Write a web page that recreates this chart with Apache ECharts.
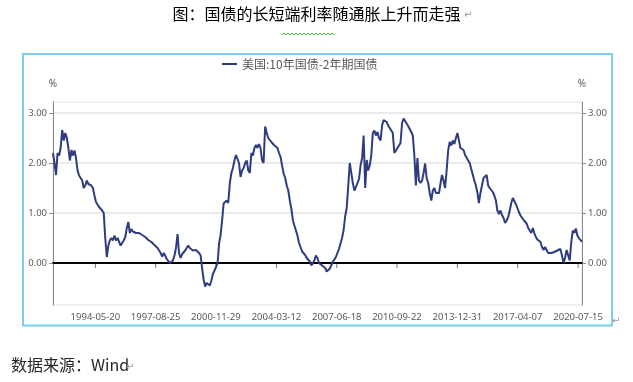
<!DOCTYPE html>
<html><head><meta charset="utf-8">
<script src="https://cdn.jsdelivr.net/npm/echarts@6/dist/echarts.min.js"></script>
<style>html,body{margin:0;padding:0;background:#fff}#c{width:633px;height:382px}</style>
</head><body><div id="c"></div>
<script>
const titleText = '图：国债的长短端利率随通胀上升而走强';
const sourceText = '数据来源：Wind';
const seriesName = '美国:10年国债-2年期国债';
const firstMonth = [1992, 2];
// monthly values (%), 1992-02 .. 2020-10
const spread = [
 2.20,2.00,1.76,2.20,2.15,2.30,2.66,2.45,2.60,2.50,2.30,
 2.05,2.26,2.15,2.25,2.10,1.85,1.75,1.72,1.65,1.50,1.55,1.65,
 1.58,1.62,1.55,1.50,1.35,1.22,1.20,1.12,1.10,1.05,1.00,0.50,
 0.12,0.35,0.45,0.50,0.45,0.55,0.45,0.50,0.48,0.35,0.38,0.45,
 0.52,0.70,0.82,0.60,0.68,0.63,0.62,0.60,0.63,0.60,0.60,0.56,
 0.58,0.52,0.50,0.46,0.45,0.42,0.40,0.36,0.33,0.30,0.25,0.20,
 0.13,0.20,0.15,0.08,0.05,0.00,0.02,0.05,0.15,0.30,0.58,0.20,
 0.10,0.18,0.22,0.25,0.30,0.35,0.30,0.32,0.25,0.28,0.26,0.22,
 0.20,0.15,-0.10,-0.34,-0.47,-0.40,-0.44,-0.45,-0.35,-0.22,-0.15,-0.08,
 0.00,0.40,0.55,0.85,1.19,1.22,1.25,1.20,1.60,1.80,1.90,2.05,
 2.16,2.20,2.00,1.72,1.85,1.90,2.00,2.05,1.85,1.80,2.20,2.15,
 2.30,2.36,2.30,2.38,2.30,2.05,2.00,2.73,2.60,2.50,2.48,2.42,
 2.45,2.35,2.37,2.30,2.20,2.12,1.95,1.79,1.70,1.55,1.45,1.25,
 1.08,0.85,0.75,0.65,0.55,0.40,0.32,0.23,0.20,0.16,0.10,0.06,
 0.03,-0.05,-0.08,0.05,0.15,0.10,0.00,-0.02,-0.05,-0.07,-0.10,-0.17,
 -0.14,-0.11,-0.08,0.02,-0.02,0.12,0.20,0.28,0.39,0.50,0.66,0.93,
 1.10,1.55,2.00,1.80,1.60,1.45,1.52,1.60,1.68,1.95,2.10,2.55,
 1.50,2.06,1.85,1.95,2.15,2.60,2.65,2.55,2.62,2.50,2.45,2.75,
 2.86,2.89,2.82,2.75,2.72,2.65,2.60,2.20,2.25,2.30,2.35,2.40,
 2.80,2.89,2.84,2.79,2.74,2.70,2.62,2.55,2.15,1.55,2.10,1.65,
 1.60,1.65,1.80,1.99,1.70,1.60,1.40,1.25,1.45,1.50,1.40,1.42,
 1.40,1.60,1.76,1.65,1.50,1.85,2.25,2.42,2.35,2.45,2.38,2.50,
 2.60,2.62,2.30,2.30,2.26,2.16,2.13,2.05,2.00,1.88,1.85,1.65,
 1.55,1.40,1.20,1.40,1.40,1.70,1.73,1.76,1.55,1.50,1.46,1.42,
 1.35,1.25,1.05,0.98,1.05,0.96,0.90,0.80,0.85,0.92,1.05,1.20,
 1.30,1.28,1.18,1.10,1.02,0.95,0.92,0.86,0.86,0.79,0.70,0.65,
 0.60,0.70,0.60,0.52,0.47,0.44,0.42,0.32,0.26,0.32,0.29,0.20,
 0.19,0.20,0.19,0.22,0.20,0.25,0.23,0.28,0.15,0.00,0.10,0.26,
 0.30,0.05,0.40,0.65,0.60,0.69,0.55,0.50,0.52,0.42
];
const xTickDates = ['1994-05-20','1997-08-25','2000-11-29','2004-03-12','2007-06-18','2010-09-22','2013-12-31','2017-04-07','2020-07-15'];
const xRange = ['1992-02-01','2020-10-01'];
const yTicks = [0, 1, 2, 3];
const yRange = [-0.84, 3.22];

function pad(n){return (n<10?'0':'')+n;}
const toTime = s => { const p = s.split('-').map(Number); return Date.UTC(p[0], p[1]-1, p[2]); };
const months = spread.map((_, i) => {
  const k = firstMonth[1] - 1 + i;
  return (firstMonth[0] + Math.floor(k/12)) + '-' + pad(k%12+1) + '-01';
});
const seriesData = months.map((d, i) => [toTime(d), spread[i]]);
const xTickTimes = xTickDates.map(toTime);
const fmtDate = v => { const d = new Date(v); return d.getUTCFullYear()+'-'+pad(d.getUTCMonth()+1)+'-'+pad(d.getUTCDate()); };

const axisFont = 'Noto Sans';
const labelColor = '#595959';
const yAxisCommon = {
  type: 'value', min: yRange[0], max: yRange[1],
  name: '%', nameLocation: 'end', nameGap: 13,
  nameTextStyle: { color: labelColor, fontSize: 10, fontFamily: axisFont },
  axisLine: { show: true, lineStyle: { color: '#8a8a8a', width: 1 } },
  axisTick: { show: true, customValues: yTicks, length: 4, lineStyle: { color: '#8a8a8a' } },
  axisLabel: { customValues: yTicks, formatter: v => v.toFixed(2), color: labelColor, fontSize: 9.5, fontFamily: axisFont, margin: 6 }
};

const chart = echarts.init(document.getElementById('c'), null, { renderer: 'canvas' });
const wave = [];
for (let x = 282; x <= 334; x += 2) wave.push([x, (x/2) % 2 === 0 ? 33 : 35]);

chart.setOption({
  animation: false,
  backgroundColor: '#fff',
  title: { text: titleText, left: 'center', top: 6, padding: 0,
    textStyle: { fontSize: 16, fontWeight: 'normal', color: '#000', fontFamily: 'Noto Sans CJK SC' } },
  legend: { top: 58, left: 222, icon: 'rect', itemWidth: 15, itemHeight: 2, padding: 0, itemGap: 10,
    textStyle: { color: labelColor, fontSize: 12, fontFamily: 'Noto Sans CJK SC' }, data: [seriesName] },
  grid: { left: 53, right: 51, top: 102, bottom: 77, show: true, borderColor: '#e4e4e4', borderWidth: 1 },
  xAxis: {
    type: 'value', min: toTime(xRange[0]), max: toTime(xRange[1]),
    axisLine: { onZero: true, lineStyle: { color: '#000', width: 2 } },
    axisTick: { show: false },
    axisLabel: { customValues: xTickTimes, formatter: v => fmtDate(v), margin: 7, color: labelColor, fontSize: 9.5, fontFamily: axisFont, hideOverlap: false },
    splitLine: { show: false }
  },
  yAxis: [
    Object.assign({}, yAxisCommon, { position: 'left', splitLine: { show: true, lineStyle: { color: '#e4e4e4', width: 1.5 } } }),
    Object.assign({}, yAxisCommon, { position: 'right', splitLine: { show: false } })
  ],
  series: [
    {
      name: seriesName, type: 'line', data: seriesData, yAxisIndex: 0,
      symbol: 'none', showSymbol: false, z: 3,
      lineStyle: { color: '#2f3c80', width: 2 }, itemStyle: { color: '#2f3c80' }
    },
    {
      name: 'xticks', type: 'scatter', data: xTickTimes.map(t => [t, 0]), yAxisIndex: 0,
      symbol: 'rect', symbolSize: [1, 4], symbolOffset: [0, 3], silent: true, z: 1,
      itemStyle: { color: '#555' }
    }
  ],
  graphic: [
    { type: 'rect', shape: { x: 23, y: 54, width: 589, height: 271.5 }, style: { fill: 'none', stroke: '#79cdef', lineWidth: 2 }, z: 10 },
    { type: 'polyline', shape: { points: wave }, style: { stroke: '#3cb043', lineWidth: 1, fill: 'none' } },
    { type: 'text', left: 464, top: 10, style: { text: '↵', fill: '#999', fontSize: 10, fontFamily: 'DejaVu Sans' } },
    { type: 'text', left: 11, top: 357, style: { text: sourceText, fill: '#262626', fontSize: 16, fontFamily: 'Noto Sans CJK SC' } },
    { type: 'text', left: 126, top: 362, style: { text: '↵', fill: '#999', fontSize: 10, fontFamily: 'DejaVu Sans' } },
    { type: 'text', left: 612, top: 316, style: { text: '↵', fill: '#999', fontSize: 10, fontFamily: 'DejaVu Sans' } }
  ]
});
</script></body></html>
